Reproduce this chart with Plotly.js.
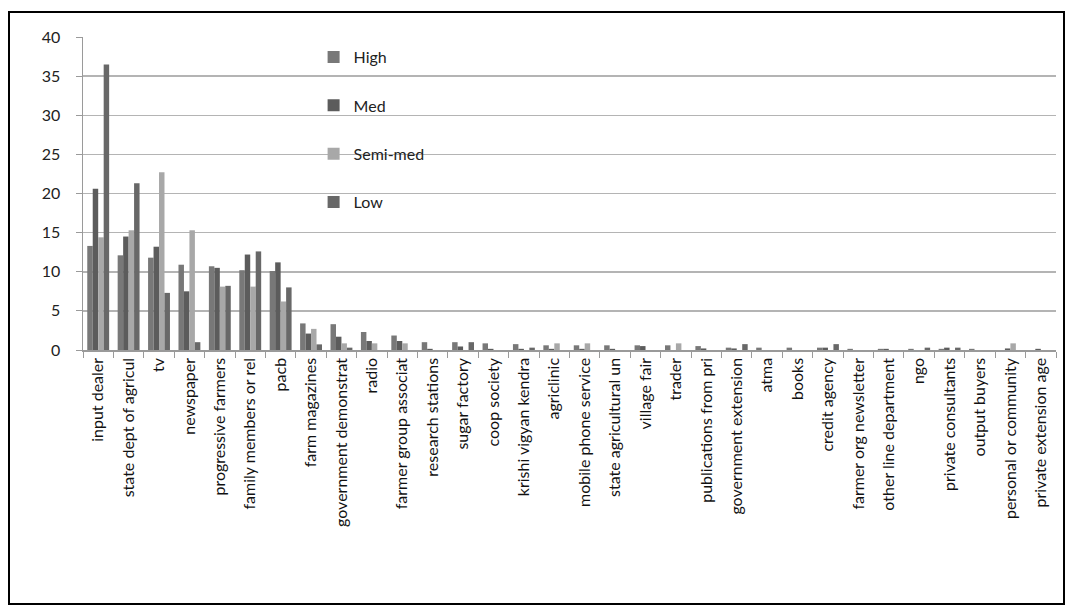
<!DOCTYPE html>
<html>
<head>
<meta charset="utf-8">
<script src="https://cdn.plot.ly/plotly-3.0.1.min.js"></script>
<style>
  html, body { margin: 0; padding: 0; background: #fff; }
  #wrap { position: relative; width: 1074px; height: 614px; }
  #chart { width: 1074px; height: 614px; }
  #frame { position: absolute; left: 8px; top: 11px; width: 1057px; height: 594px;
           border: 2.5px solid #000; pointer-events: none; box-sizing: border-box; }
</style>
</head>
<body>
<div id="wrap">
  <div id="chart"></div>
  <div id="frame"></div>
</div>
<script>
const categories = [
  "input dealer", "state dept of agricul", "tv", "newspaper", "progressive farmers",
  "family members or rel", "pacb", "farm magazines", "government demonstrat", "radio",
  "farmer group associat", "research stations", "sugar factory", "coop society",
  "krishi vigyan kendra", "agriclinic", "mobile phone service", "state agricultural un",
  "village fair", "trader", "publications from pri", "government extension", "atma",
  "books", "credit agency", "farmer org newsletter", "other line department", "ngo",
  "private consultants", "output buyers", "personal or community", "private extension age"
];
const high    = [13.3, 12.1, 11.8, 10.9, 10.7, 10.2, 10.1, 3.4, 3.3, 2.3, 1.85, 1.0, 1.0, 0.85, 0.75, 0.6, 0.6, 0.6, 0.6, 0.6, 0.5, 0.3, 0.3, 0.3, 0.3, 0.15, 0.15, 0.15, 0.15, 0.15, 0, 0];
const med     = [20.6, 14.5, 13.2, 7.5, 10.5, 12.2, 11.2, 2.1, 1.7, 1.15, 1.15, 0.15, 0.45, 0.15, 0.15, 0.15, 0.15, 0.15, 0.5, 0, 0.2, 0.2, 0, 0, 0.3, 0, 0.15, 0, 0.3, 0, 0.2, 0.15];
const semiMed = [14.4, 15.3, 22.7, 15.3, 8.1, 8.1, 6.2, 2.7, 0.85, 0.85, 0.85, 0, 0, 0, 0, 0.85, 0.85, 0, 0, 0.85, 0, 0, 0, 0, 0, 0, 0, 0, 0, 0, 0.85, 0];
const low     = [36.5, 21.3, 7.3, 1.0, 8.2, 12.6, 8.0, 0.72, 0.3, 0, 0, 0, 1.0, 0, 0.3, 0, 0, 0, 0, 0, 0, 0.75, 0, 0, 0.75, 0, 0, 0.3, 0.3, 0, 0, 0];
const seriesNames = ["High", "Med", "Semi-med", "Low"];
const seriesColors = ["#787878", "#5c5c5c", "#a8a8a8", "#686868"];

const seriesValues = [high, med, semiMed, low];
const traces = seriesValues.map((vals, i) => ({
  type: "bar",
  name: seriesNames[i],
  x: categories,
  y: vals,
  legendgroup: "g" + i,
  marker: { color: seriesColors[i], line: { width: 0 } },
  hoverinfo: "x+y+name"
}));

const font = "Lato, Open Sans, sans-serif";
const layout = {
  width: 1074,
  height: 614,
  margin: { l: 83, r: 18, t: 37, b: 264, pad: 0 },
  paper_bgcolor: "#ffffff",
  plot_bgcolor: "#ffffff",
  barmode: "group",
  bargap: 0.28,
  bargroupgap: 0,
  showlegend: true,
  legend: {
    x: 0.237, y: 0.99, xanchor: "left", yanchor: "top",
    bgcolor: "rgba(0,0,0,0)",
    font: { family: font, size: 16, color: "#222" },
    tracegroupgap: 24.5,
    itemwidth: 30
  },
  xaxis: {
    type: "category",
    tickson: "boundaries",
    ticks: "outside",
    ticklen: 6,
    tickcolor: "#9a9a9a",
    showline: true,
    linecolor: "#9a9a9a",
    linewidth: 1.5,
    showgrid: false,
    tickangle: -90,
    tickfont: { family: font, size: 16, color: "#111" },
    automargin: false
  },
  yaxis: {
    range: [0, 40],
    dtick: 5,
    ticks: "outside",
    ticklen: 6,
    tickcolor: "#9a9a9a",
    showline: true,
    linecolor: "#9a9a9a",
    linewidth: 1.5,
    showgrid: true,
    gridcolor: "#b4b4b4",
    gridwidth: 1.5,
    zeroline: false,
    ticklabelstandoff: 12,
    tickfont: { family: font, size: 16, color: "#222" },
    automargin: false
  }
};

Plotly.newPlot("chart", traces, layout, { displayModeBar: false, staticPlot: true });
</script>
</body>
</html>
